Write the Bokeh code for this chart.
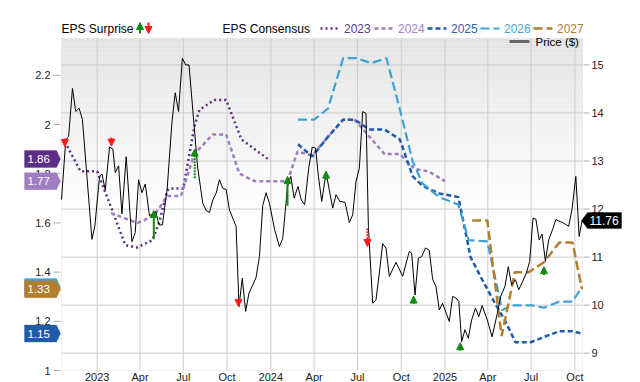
import pandas as pd
from bokeh.plotting import figure
from bokeh.models import (Range1d, BoxAnnotation, PolyAnnotation, Label, Arrow,
                          NormalHead, ColumnDataSource)
from bokeh.embed import file_html
from bokeh.resources import INLINE

# ---------------- data ----------------
price_dates = ["2022-10-18", "2022-10-27", "2022-11-02", "2022-11-10", "2022-11-17", "2022-11-24",
               "2022-12-01", "2022-12-21", "2022-12-27", "2023-01-06", "2023-01-11", "2023-01-18",
               "2023-01-27", "2023-02-03", "2023-02-08", "2023-02-15", "2023-02-22", "2023-03-03",
               "2023-03-15", "2023-03-22", "2023-03-29", "2023-04-05", "2023-04-12", "2023-04-21",
               "2023-05-04", "2023-05-11", "2023-05-18", "2023-05-28", "2023-06-07", "2023-06-14",
               "2023-06-21", "2023-06-29", "2023-07-06", "2023-07-13", "2023-07-31", "2023-08-11",
               "2023-08-18", "2023-08-25", "2023-09-01", "2023-09-08", "2023-09-15", "2023-09-22",
               "2023-09-29", "2023-10-06", "2023-10-20", "2023-10-26", "2023-11-02", "2023-11-09",
               "2023-11-16", "2023-11-24", "2023-12-01", "2023-12-08", "2023-12-15", "2023-12-22",
               "2023-12-29", "2024-01-09", "2024-01-19", "2024-01-26", "2024-02-05", "2024-02-12",
               "2024-02-19", "2024-02-27", "2024-03-05", "2024-03-12", "2024-03-21", "2024-03-28",
               "2024-04-04", "2024-04-10", "2024-04-17", "2024-04-26", "2024-05-10", "2024-05-17",
               "2024-05-25", "2024-06-05", "2024-06-14", "2024-06-21", "2024-06-28", "2024-07-05",
               "2024-07-12", "2024-07-19", "2024-07-24", "2024-08-02", "2024-08-09", "2024-08-16",
               "2024-08-23", "2024-08-30", "2024-09-06", "2024-09-20", "2024-09-27", "2024-10-04",
               "2024-10-18", "2024-10-23", "2024-10-30", "2024-11-06", "2024-11-13", "2024-11-21",
               "2024-11-29", "2024-12-06", "2024-12-13", "2024-12-20", "2024-12-27", "2025-01-10",
               "2025-01-17", "2025-01-24", "2025-01-30", "2025-02-05", "2025-02-12", "2025-02-19",
               "2025-02-26", "2025-03-06", "2025-03-13", "2025-03-20", "2025-03-31", "2025-04-10",
               "2025-04-21", "2025-04-28", "2025-05-07", "2025-05-14", "2025-05-21", "2025-05-29",
               "2025-06-05", "2025-06-13", "2025-06-21", "2025-06-28", "2025-07-05", "2025-07-11",
               "2025-07-18", "2025-07-24", "2025-07-31", "2025-08-07", "2025-08-15", "2025-08-22",
               "2025-08-31", "2025-09-07", "2025-09-18", "2025-09-25", "2025-10-03", "2025-10-10",
               "2025-10-16"]
price_vals = [12.20, 13.44, 13.51, 14.51, 14.03, 14.10,
              13.86, 11.37, 11.64, 12.68, 12.73, 12.40,
              13.29, 13.25, 12.76, 12.90, 11.90, 13.09,
              11.32, 11.51, 12.61, 12.34, 12.52, 11.86,
              11.95, 11.67, 11.67, 12.41, 13.79, 14.42,
              14.03, 15.14, 15.00, 15.00, 12.88, 12.12,
              11.97, 11.93, 12.19, 12.33, 12.61, 12.43,
              12.41, 11.98, 11.64, 9.97, 10.56, 9.87,
              10.25, 10.42, 10.58, 11.01, 12.07, 12.34,
              12.12, 11.57, 11.22, 11.39, 12.47, 12.68,
              12.23, 12.47, 12.19, 12.09, 12.88, 13.29,
              13.27, 12.68, 12.16, 12.76, 12.02, 12.30,
              12.16, 12.14, 11.72, 11.88, 12.57, 12.85,
              14.03, 13.99, 11.64, 10.04, 10.11, 10.67,
              11.28, 11.19, 10.60, 10.89, 10.75, 10.60,
              11.12, 11.08, 10.21, 10.98, 11.01, 11.19,
              11.14, 10.54, 10.39, 9.90, 10.04, 9.66,
              10.18, 10.15, 10.08, 9.24, 9.49, 9.31,
              9.69, 9.94, 9.76, 9.99, 9.69, 9.34,
              9.83, 10.18, 10.39, 10.80, 10.42, 10.53,
              10.32, 10.49, 10.67, 10.91, 11.81, 11.79,
              11.36, 11.48, 10.91, 11.36, 11.57, 11.78,
              11.74, 11.71, 11.64, 12.00, 12.68, 11.43,
              11.76]

eps23_dates = ["2022-10-25", "2022-11-27", "2022-12-08", "2023-01-01", "2023-01-19", "2023-02-02",
               "2023-03-01", "2023-03-26", "2023-04-27", "2023-05-11", "2023-05-28", "2023-06-01",
               "2023-07-01", "2023-07-24", "2023-08-04", "2023-09-04", "2023-09-29", "2023-10-31",
               "2023-12-26"]
eps23_vals = [1.93, 1.81, 1.81, 1.81, 1.72, 1.65,
              1.51, 1.50, 1.53, 1.60, 1.73, 1.74,
              1.74, 1.99, 2.06, 2.10, 2.10, 1.94,
              1.86]

eps24_dates = ["2023-01-30", "2023-03-27", "2023-05-01", "2023-05-29", "2023-06-26", "2023-07-24",
               "2023-09-01", "2023-09-29", "2023-10-27", "2023-11-28", "2024-02-05", "2024-02-26",
               "2024-03-28", "2024-04-30", "2024-06-01", "2024-06-25", "2024-08-27", "2024-09-28",
               "2024-10-29", "2024-11-27", "2025-01-01"]
eps24_vals = [1.64, 1.60, 1.63, 1.71, 1.71, 1.88,
              1.96, 1.96, 1.80, 1.77, 1.77, 1.89,
              1.875, 1.95, 2.02, 2.02, 1.88, 1.88,
              1.82, 1.81, 1.77]

eps25_dates = ["2024-02-27", "2024-03-28", "2024-04-30", "2024-06-01", "2024-06-25", "2024-07-26",
               "2024-08-27", "2024-09-28", "2024-10-25", "2024-11-15", "2024-12-20", "2025-01-29",
               "2025-02-24", "2025-03-20", "2025-04-17", "2025-05-08", "2025-05-29", "2025-06-30",
               "2025-08-29", "2025-09-26", "2025-10-16"]
eps25_vals = [1.92, 1.87, 1.95, 2.02, 2.02, 1.98,
              1.98, 1.94, 1.79, 1.75, 1.72, 1.705,
              1.46, 1.37, 1.27, 1.20, 1.115, 1.115,
              1.16, 1.16, 1.15]

eps26_dates = ["2024-02-27", "2024-04-01", "2024-04-30", "2024-06-01", "2024-06-29", "2024-07-30",
               "2024-08-31", "2024-10-01", "2024-10-25", "2024-11-15", "2024-12-20", "2025-01-29",
               "2025-02-20", "2025-03-31", "2025-05-01", "2025-05-22", "2025-07-03", "2025-07-28",
               "2025-08-29", "2025-09-26", "2025-10-16"]
eps26_vals = [2.02, 2.02, 2.065, 2.27, 2.27, 2.25,
              2.27, 2.04, 1.85, 1.76, 1.705, 1.675,
              1.53, 1.525, 1.245, 1.265, 1.265, 1.255,
              1.28, 1.28, 1.34]

eps27_dates = ["2025-02-27", "2025-03-31", "2025-04-30", "2025-05-28", "2025-06-26", "2025-07-28",
               "2025-08-29", "2025-09-26", "2025-10-16"]
eps27_vals = [1.61, 1.61, 1.14, 1.40, 1.40, 1.44,
              1.52, 1.52, 1.33]

years = ["2023", "2024", "2025", "2026", "2027"]

surprise_dates = ["2022-10-25", "2023-01-31", "2023-04-30", "2023-07-25", "2023-10-25", "2024-02-05",
                  "2024-04-26", "2024-07-22", "2024-10-27", "2025-02-02", "2025-07-28"]
surprise_tail = [13.47, 13.49, 11.37, 12.64, 10.14, 12.07, 12.61, 11.60, 10.03, 9.05, 10.63]
surprise_tip = [13.30, 13.31, 11.97, 13.25, 9.97, 12.68, 12.79, 11.22, 10.19, 9.22, 10.80]
surprise_beat = [False, False, True, True, False, True, True, False, True, True, True]
surprise_dashed = [False, False, False, True, False, False, False, True, False, False, False]

x_tick_dates = ["2023-01-01", "2023-04-01", "2023-07-01", "2023-10-01", "2024-01-01", "2024-04-01",
                "2024-07-01", "2024-10-01", "2025-01-01", "2025-04-01", "2025-07-01", "2025-10-01"]
x_tick_labels = ["2023", "Apr", "Jul", "Oct", "2024", "Apr", "Jul", "Oct", "2025", "Apr", "Jul", "Oct"]
eps_ticks = [1.0, 1.2, 1.4, 1.6, 1.8, 2.0, 2.2]
price_ticks = [9, 10, 11, 12, 13, 14, 15]

# ---------------- styles / layout ----------------
FONT = "Liberation Sans"
CW, CH = 640, 382
PL, PR, PT, PB = 61, 582, 38, 370        # visual plot area (canvas px)
EPS_LO, EPS_HI = 1.0, 2.35
PX_LO, PX_HI = 8.64, 15.55
T0 = pd.Timestamp("2022-10-18").value / 1e6
T1 = pd.Timestamp("2025-10-17").value / 1e6

MPP = (T1 - T0) / (PR - PL)
EPP = (EPS_HI - EPS_LO) / (PB - PT)
PPP = (PX_HI - PX_LO) / (PB - PT)


def x_at(px):
    return T0 + (px - PL) * MPP


def price_to_eps(v):
    return EPS_LO + (v - PX_LO) * (EPS_HI - EPS_LO) / (PX_HI - PX_LO)


line_cols = ["#5c2f86", "#a07cc0", "#1f5ba8", "#3ea1d6", "#b27e30"]
text_cols = ["#5c3a8c", "#a686c4", "#2e62a8", "#4ea2d2", "#a97c38"]
dashes = ["2 3", "4 3", "5 3", "9 4", "9 4"]
widths = [2.5, 2.5, 2.5, 2.2, 2.5]
GREEN, RED = "#118a11", "#ff1a1a"
GRID = "#cccccc"
TICKC = "#aaaaaa"
TXT = "#222222"

p = figure(width=CW, height=CH, output_backend="svg", toolbar_location=None,
           x_axis_type="datetime", x_axis_location=None, y_axis_location=None,
           x_range=Range1d(x_at(0), x_at(CW)),
           y_range=Range1d(EPS_LO - (CH - PB) * EPP, EPS_HI + PT * EPP),
           min_border_left=0, min_border_right=0, min_border_top=0, min_border_bottom=0)
p.extra_y_ranges = {"price": Range1d(PX_LO - (CH - PB) * PPP, PX_HI + PT * PPP)}
p.background_fill_color = "white"
p.border_fill_color = "white"
p.outline_line_color = None
p.xgrid.visible = False
p.ygrid.visible = False

# gradient background (bands)
N = 34
span = (EPS_HI - EPS_LO) * 0.52
for i in range(N):
    top = EPS_HI - span * i / N
    bot = EPS_HI - span * (i + 1) / N
    g = int(round(228 + (255 - 228) * (i + 0.5) / N))
    p.add_layout(BoxAnnotation(left=T0, right=T1, top=top, bottom=bot, fill_color=(g, g, g),
                               fill_alpha=1.0, line_alpha=0, level="image"))

# grid lines
tick_ms = [pd.Timestamp(d).value / 1e6 for d in x_tick_dates]
p.segment(x0=tick_ms, x1=tick_ms, y0=[EPS_LO] * len(tick_ms), y1=[EPS_HI] * len(tick_ms),
          line_color=GRID, line_width=1, level="underlay")
p.segment(x0=[T0] * len(price_ticks), x1=[T1] * len(price_ticks), y0=price_ticks, y1=price_ticks,
          y_range_name="price", line_color=GRID, line_width=1, level="underlay")
p.add_layout(BoxAnnotation(left=T0, right=T1, bottom=EPS_LO, top=EPS_HI, fill_alpha=0,
                           line_color=GRID, line_width=1, level="underlay"))

# time scale labels
for t, lab in zip(tick_ms, x_tick_labels):
    p.add_layout(Label(x=t, x_units="data", y=PB + 6, y_units="canvas", text=lab,
                       text_align="center", text_baseline="middle", text_font=FONT,
                       text_font_size="11px", text_color=TXT))

# left value scale (EPS)
p.segment(x0=[x_at(53)] * len(eps_ticks), x1=[x_at(60)] * len(eps_ticks), y0=eps_ticks,
          y1=eps_ticks, line_color=TICKC, line_width=1)
for v in eps_ticks:
    p.add_layout(Label(x=50, x_units="canvas", y=v, y_units="data", text=f"{v:g}",
                       text_align="right", text_baseline="middle", text_font=FONT,
                       text_font_size="11px", text_color=TXT))

# right value scale (price)
p.segment(x0=[x_at(583)] * len(price_ticks), x1=[x_at(589)] * len(price_ticks), y0=price_ticks,
          y1=price_ticks, y_range_name="price", line_color=TICKC, line_width=1)
for v in price_ticks:
    p.add_layout(Label(x=591, x_units="canvas", y=v, y_units="data", y_range_name="price",
                       text=f"{v:g}", text_align="left", text_baseline="middle", text_font=FONT,
                       text_font_size="11px", text_color=TXT))

# EPS consensus lines
series = [(eps23_dates, eps23_vals), (eps24_dates, eps24_vals), (eps25_dates, eps25_vals),
          (eps26_dates, eps26_vals), (eps27_dates, eps27_vals)]
for (d, v), c, ds, lw in zip(series, line_cols, dashes, widths):
    p.line(pd.to_datetime(d), v, line_color=c, line_dash=ds, line_width=lw)

# price
p.line(pd.to_datetime(price_dates), price_vals, y_range_name="price", line_color="black",
       line_width=1)

# surprise arrows
sd = pd.to_datetime(surprise_dates)
for beat in (True, False):
    for dashed in (False, True):
        idx = [i for i in range(len(sd)) if surprise_beat[i] == beat and surprise_dashed[i] == dashed]
        if not idx:
            continue
        src = ColumnDataSource(dict(x=[sd[i] for i in idx], y0=[surprise_tail[i] for i in idx],
                                    y1=[surprise_tip[i] for i in idx]))
        c = GREEN if beat else RED
        p.add_layout(Arrow(end=NormalHead(size=7, fill_color=c, line_color=c, line_width=1),
                           x_start="x", y_start="y0", x_end="x", y_end="y1", source=src,
                           y_range_name="price", line_color=c, line_width=2,
                           line_dash="2 1" if dashed else "solid"))

# left tags (last consensus values)
h_eps = 8.5 * EPP
for (d, v), c in zip(series, line_cols):
    val = v[-1]
    p.add_layout(PolyAnnotation(xs=[24, 56, 60, 56, 24], xs_units="canvas",
                                ys=[val + h_eps, val + h_eps, val, val - h_eps, val - h_eps],
                                ys_units="data", fill_color=c, fill_alpha=1.0, line_color=c,
                                line_width=1))
    p.add_layout(Label(x=27, x_units="canvas", y=val, y_units="data", text=f"{val:.2f}",
                       text_baseline="middle", text_color="white", text_font=FONT,
                       text_font_size="11.5px"))

# right price tag
last_price = price_vals[-1]
lp = price_to_eps(last_price)
h_tag = 8 * EPP
p.add_layout(PolyAnnotation(xs=[581, 587, 621, 621, 587], xs_units="canvas",
                            ys=[lp, lp + h_tag, lp + h_tag, lp - h_tag, lp - h_tag],
                            ys_units="data", fill_color="black", fill_alpha=1.0,
                            line_color="black"))
p.add_layout(Label(x=589, x_units="canvas", y=lp, y_units="data",
                   text=f"{last_price:.2f}", text_baseline="middle", text_color="white",
                   text_font=FONT, text_font_size="12px"))

# top legend
LY = 28
p.add_layout(Label(x=61, y=LY, x_units="canvas", y_units="canvas", text="EPS Surprise",
                   text_baseline="middle", text_font=FONT, text_font_size="12px", text_color="black"))
p.add_layout(Arrow(x_start=139.5, y_start=33, x_end=139.5, y_end=22, start_units="canvas",
                   end_units="canvas", line_color=GREEN, line_width=2,
                   end=NormalHead(size=7, fill_color=GREEN, line_color=GREEN)))
p.add_layout(Arrow(x_start=148, y_start=22, x_end=148, y_end=33, start_units="canvas",
                   end_units="canvas", line_color=RED, line_width=2,
                   end=NormalHead(size=7, fill_color=RED, line_color=RED)))
p.add_layout(Label(x=222, y=LY, x_units="canvas", y_units="canvas", text="EPS Consensus",
                   text_baseline="middle", text_font=FONT, text_font_size="12px", text_color="black"))
leg_x = [320, 374, 427, 480, 533]
for yr, lx, c, tc, ds, lw in zip(years, leg_x, line_cols, text_cols, dashes, widths):
    p.add_layout(Arrow(x_start=lx, y_start=LY, x_end=lx + 19, y_end=LY, start_units="canvas",
                       end_units="canvas", end=None, line_color=c, line_dash=ds, line_width=lw))
    p.add_layout(Label(x=lx + 23.5, y=LY, x_units="canvas", y_units="canvas", text=yr,
                       text_baseline="middle", text_font=FONT, text_font_size="12px", text_color=tc))

# price legend
p.add_layout(Arrow(x_start=509, y_start=41, x_end=529, y_end=41, start_units="canvas",
                   end_units="canvas", end=None, line_color="#666666", line_width=3))
p.add_layout(Label(x=535, y=41, x_units="canvas", y_units="canvas", text="Price ($)",
                   text_baseline="middle", text_font=FONT, text_font_size="11.5px",
                   text_color="black"))

open("out.html", "w").write(file_html(p, INLINE))
